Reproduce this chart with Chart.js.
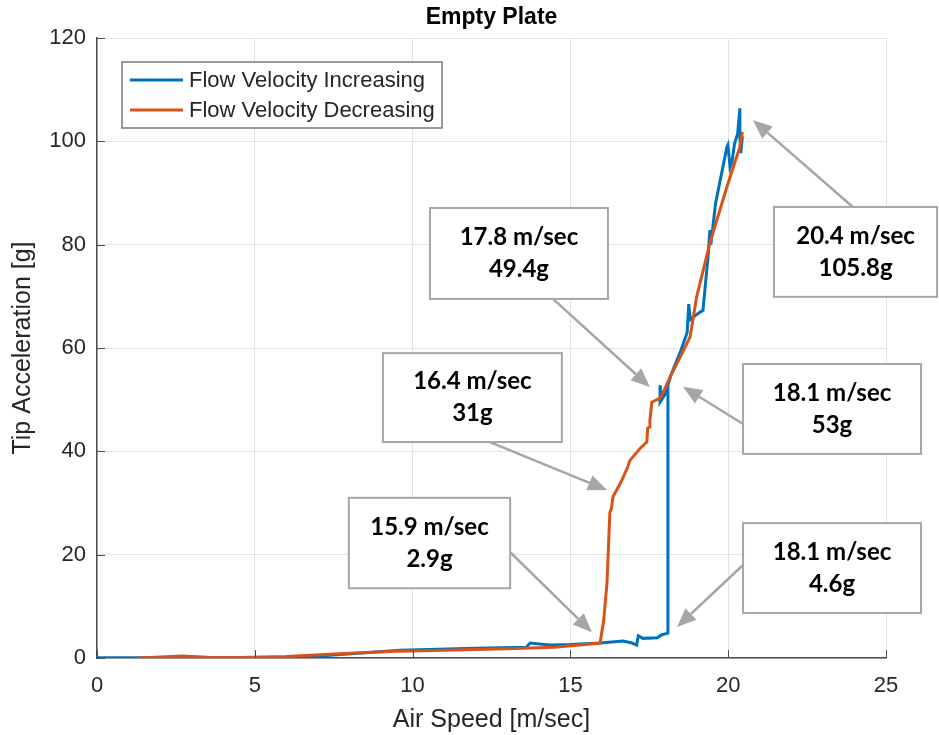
<!DOCTYPE html>
<html>
<head>
<meta charset="utf-8">
<script src="https://cdn.jsdelivr.net/npm/chart.js@4.4.1/dist/chart.umd.min.js"></script>
<style>
  html, body { margin: 0; padding: 0; background: #ffffff; }
</style>
</head>
<body>
<canvas id="myChart" width="939" height="735"></canvas>
<script>
// Flow velocity increasing (air speed m/sec, tip acceleration g)
const incSpeed = [0.0, 1.4, 3.0, 5.0, 6.2, 7.5, 9.6, 12.0, 13.6, 13.72, 14.35, 15.0, 15.94, 16.67, 16.95, 17.1, 17.15, 17.3, 17.75, 17.9, 18.09,
  18.09, 18.05, 17.84, 17.84, 17.88, 18.09, 18.2, 18.5, 18.7, 18.75, 18.8, 19.0, 19.2, 19.36, 19.42, 19.45, 19.6, 19.96, 19.99, 20.06, 20.12, 20.2, 20.3, 20.37, 20.37, 20.4, 20.45];
const incAccel = [0.05, 0.05, 0.1, 0.0, 0.0, 0.6, 1.5, 1.9, 2.1, 2.9, 2.5, 2.6, 2.9, 3.3, 2.9, 2.5, 4.3, 3.8, 3.9, 4.5, 4.8,
  52.8, 51.5, 49.5, 52.8, 50.5, 52.8, 55.0, 59.5, 63.0, 68.5, 65.5, 66.5, 67.3, 77.6, 82.8, 80.0, 88.0, 98.9, 99.3, 95.0, 96.0, 99.5, 101.5, 106.4, 100.8, 97.7, 101.0];

// Flow velocity decreasing
const decSpeed = [1.3, 2.0, 2.7, 3.5, 4.5, 6.0, 8.0, 9.5, 11.0, 13.0, 14.5, 15.94, 16.05, 16.16, 16.25, 16.3, 16.35, 16.6, 16.82, 16.88, 17.2, 17.42, 17.45, 17.5, 17.52, 17.58, 17.84, 17.97, 18.16, 18.5, 18.79, 19.0, 19.42, 19.96, 20.37, 20.45];
const decAccel = [0.0, 0.2, 0.4, 0.15, 0.1, 0.3, 0.9, 1.3, 1.5, 1.8, 2.1, 2.9, 7.0, 14.5, 28.1, 29.0, 31.2, 34.0, 37.0, 38.2, 40.5, 41.8, 44.5, 44.7, 46.0, 49.5, 50.3, 51.8, 54.4, 58.5, 62.1, 69.9, 80.3, 91.2, 98.9, 101.8];

const seriesNames = ['Flow Velocity Increasing', 'Flow Velocity Decreasing'];
const xTicks = [0, 5, 10, 15, 20, 25];
const yTicks = [0, 20, 40, 60, 80, 100, 120];

// callouts: text, box corners (data units), arrow start and tip (data units)
const notes = [
  { lines: ['17.8 m/sec', '49.4g'], box: [10.55, 87.1, 16.19, 69.5], from: [14.45, 69.5], to: [17.52, 52.45] },
  { lines: ['20.4 m/sec', '105.8g'], box: [21.45, 87.3, 26.62, 69.9], from: [23.95, 87.3], to: [20.79, 104.1] },
  { lines: ['16.4 m/sec', '31g'], box: [9.06, 59.0, 14.73, 41.8], from: [12.45, 41.8], to: [16.16, 32.5] },
  { lines: ['18.1 m/sec', '53g'], box: [20.47, 56.9, 26.11, 39.5], from: [20.47, 45.3], to: [18.57, 52.5] },
  { lines: ['15.9 m/sec', '2.9g'], box: [7.98, 31.0, 13.09, 13.5], from: [13.02, 20.9], to: [15.68, 5.0] },
  { lines: ['18.1 m/sec', '4.6g'], box: [20.47, 26.1, 26.11, 8.7], from: [20.47, 18.0], to: [18.38, 6.0] }
];

const textColor = '#262626';
const sansFont = '"Liberation Sans", Arial, sans-serif';

function toPoints(xs, ys) {
  return xs.map((x, i) => ({ x: x, y: ys[i] }));
}

function drawArrow(ctx, x1, y1, x2, y2) {
  const ang = Math.atan2(y2 - y1, x2 - x1);
  const headLen = 19, headHalf = 8;
  const bx = x2 - headLen * Math.cos(ang);
  const by = y2 - headLen * Math.sin(ang);
  ctx.beginPath();
  ctx.moveTo(x1, y1);
  ctx.lineTo(bx, by);
  ctx.stroke();
  ctx.beginPath();
  ctx.moveTo(x2, y2);
  ctx.lineTo(bx - headHalf * Math.sin(ang), by + headHalf * Math.cos(ang));
  ctx.lineTo(bx + headHalf * Math.sin(ang), by - headHalf * Math.cos(ang));
  ctx.closePath();
  ctx.fill();
}

const extrasPlugin = {
  id: 'extras',
  afterDraw(chart) {
    const ctx = chart.ctx;
    const xs = chart.scales.x, ys = chart.scales.y;
    const area = chart.chartArea;
    ctx.save();

    // inward ticks like matlab
    ctx.strokeStyle = '#4d4d4d';
    ctx.lineWidth = 1;
    xTicks.forEach(v => {
      const px = Math.round(xs.getPixelForValue(v)) + 0.5;
      ctx.beginPath();
      ctx.moveTo(px, area.bottom);
      ctx.lineTo(px, area.bottom - 8);
      ctx.stroke();
    });
    yTicks.forEach(v => {
      const py = Math.round(ys.getPixelForValue(v)) + 0.5;
      ctx.beginPath();
      ctx.moveTo(area.left, py);
      ctx.lineTo(area.left + 8, py);
      ctx.stroke();
    });

    // title
    ctx.fillStyle = '#000000';
    ctx.font = 'bold 23px ' + sansFont;
    ctx.textAlign = 'center';
    ctx.textBaseline = 'middle';
    ctx.fillText('Empty Plate', (area.left + area.right) / 2, 18);

    // legend
    ctx.fillStyle = '#ffffff';
    ctx.fillRect(122, 62, 320, 66);
    ctx.strokeStyle = '#7a7a7a';
    ctx.lineWidth = 1.5;
    ctx.strokeRect(122, 62, 320, 66);
    chart.data.datasets.forEach((ds, i) => {
      const y = 80 + i * 30;
      ctx.strokeStyle = ds.borderColor;
      ctx.lineWidth = 3;
      ctx.beginPath();
      ctx.moveTo(130, y);
      ctx.lineTo(183, y);
      ctx.stroke();
      ctx.fillStyle = textColor;
      ctx.font = '22px ' + sansFont;
      ctx.textAlign = 'left';
      ctx.fillText(ds.label, 189, y + 1);
    });

    // callouts
    notes.forEach(n => {
      const l = xs.getPixelForValue(n.box[0]);
      const t = ys.getPixelForValue(n.box[1]);
      const r = xs.getPixelForValue(n.box[2]);
      const b = ys.getPixelForValue(n.box[3]);
      ctx.strokeStyle = '#a6a6a6';
      ctx.fillStyle = '#a6a6a6';
      ctx.lineWidth = 2.5;
      drawArrow(ctx, xs.getPixelForValue(n.from[0]), ys.getPixelForValue(n.from[1]),
        xs.getPixelForValue(n.to[0]), ys.getPixelForValue(n.to[1]));
      ctx.fillStyle = '#ffffff';
      ctx.fillRect(l, t, r - l, b - t);
      ctx.lineWidth = 2;
      ctx.strokeRect(l, t, r - l, b - t);
      ctx.fillStyle = '#000000';
      ctx.font = 'bold 24px Lato, "Open Sans", sans-serif';
      ctx.textAlign = 'center';
      ctx.textBaseline = 'middle';
      const cx = (l + r) / 2, cy = (t + b) / 2;
      ctx.fillText(n.lines[0], cx, cy - 16);
      ctx.fillText(n.lines[1], cx, cy + 16);
    });

    ctx.restore();
  }
};

const chart = new Chart(document.getElementById('myChart').getContext('2d'), {
  type: 'scatter',
  data: {
    datasets: [{
      label: seriesNames[0],
      data: toPoints(incSpeed, incAccel),
      showLine: true,
      borderColor: '#0072BD',
      backgroundColor: '#0072BD',
      borderWidth: 3,
      pointRadius: 0,
      tension: 0,
      order: 1
    }, {
      label: seriesNames[1],
      data: toPoints(decSpeed, decAccel),
      showLine: true,
      borderColor: '#D95319',
      backgroundColor: '#D95319',
      borderWidth: 3,
      pointRadius: 0,
      tension: 0,
      order: 0
    }]
  },
  options: {
    responsive: false,
    animation: false,
    layout: { padding: { top: 38, right: 53, left: 0, bottom: 0 } },
    plugins: {
      legend: { display: false },
      title: { display: false },
      tooltip: { enabled: false }
    },
    scales: {
      x: {
        type: 'linear',
        min: 0,
        max: 25,
        afterBuildTicks: s => { s.ticks = xTicks.map(v => ({ value: v })); },
        afterFit: s => { s.height = 77; },
        ticks: {
          color: textColor,
          font: { family: sansFont, size: 22 },
          padding: 15,
          maxRotation: 0
        },
        grid: { color: '#e3e3e3', lineWidth: 1, drawTicks: false, tickLength: 0 },
        border: { color: '#4d4d4d', width: 1.5 },
        title: {
          display: true,
          text: 'Air Speed [m/sec]',
          color: textColor,
          font: { family: sansFont, size: 25 },
          padding: { top: 0, bottom: 0 }
        }
      },
      y: {
        type: 'linear',
        min: 0,
        max: 120,
        afterBuildTicks: s => { s.ticks = yTicks.map(v => ({ value: v })); },
        afterFit: s => { s.width = 97; },
        ticks: {
          color: textColor,
          font: { family: sansFont, size: 22 },
          padding: 11
        },
        grid: { color: '#e3e3e3', lineWidth: 1, drawTicks: false, tickLength: 0 },
        border: { color: '#4d4d4d', width: 1.5 },
        title: {
          display: true,
          text: 'Tip Acceleration [g]',
          color: textColor,
          font: { family: sansFont, size: 25 },
          padding: { top: 8, bottom: 0 }
        }
      }
    }
  },
  plugins: [extrasPlugin]
});
</script>
</body>
</html>
